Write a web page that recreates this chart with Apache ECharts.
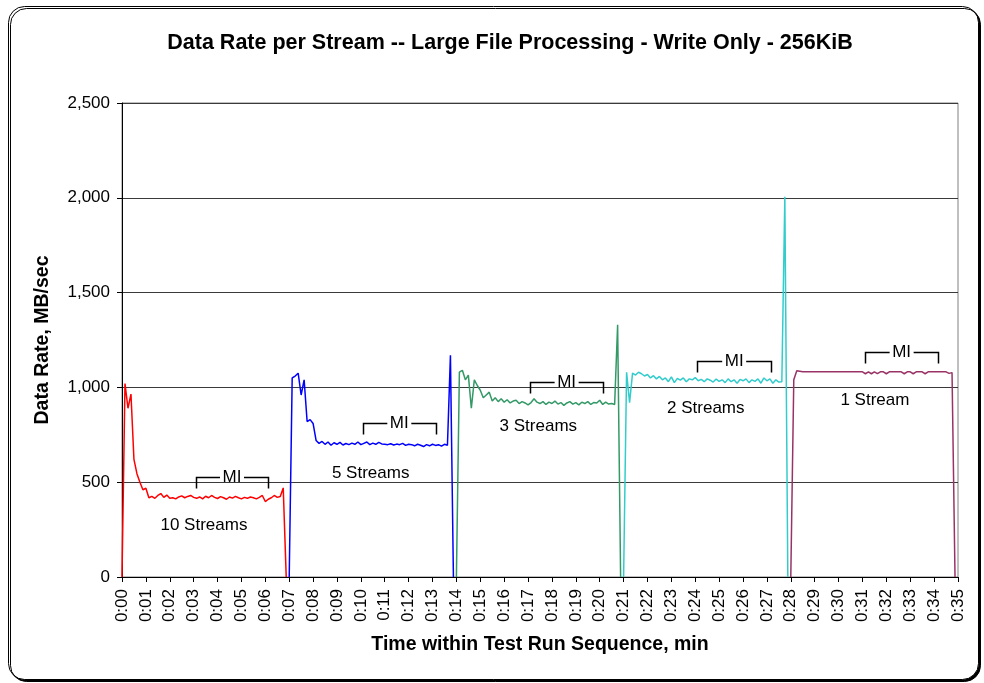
<!DOCTYPE html>
<html>
<head>
<meta charset="utf-8">
<script src="https://cdn.jsdelivr.net/npm/echarts@6/dist/echarts.min.js"></script>
<style>
  html, body { margin: 0; padding: 0; background: #fff; }
  #main { width: 984px; height: 683px; }
</style>
</head>
<body>
<div id="main"></div>
<script>
const myChart = echarts.init(document.getElementById('main'));

// tick labels of the time axis (minutes)
const timeLabels = ['0:00','0:01','0:02','0:03','0:04','0:05','0:06','0:07','0:08','0:09',
  '0:10','0:11','0:12','0:13','0:14','0:15','0:16','0:17','0:18','0:19',
  '0:20','0:21','0:22','0:23','0:24','0:25','0:26','0:27','0:28','0:29',
  '0:30','0:31','0:32','0:33','0:34','0:35'];

// samples every 7.5 s (0.125 min), each run starts at its own minute
const sampleStep = 0.125;
const runNames = ['10 Streams', '5 Streams', '3 Streams', '2 Streams', '1 Stream'];
const runStarts = [0, 7, 14, 21, 28];

const rate10 = [0, 1020, 890, 965, 620, 545, 500, 460, 468, 418,
  425, 415, 430, 440, 420, 432, 415, 418, 412, 422,
  428, 418, 425, 430, 420, 415, 422, 412, 426, 418,
  430, 420, 414, 424, 418, 410, 422, 416, 425, 418,
  412, 420, 415, 422, 418, 412, 420, 430, 398, 410,
  418, 430, 420, 425, 470, 0];
const rate5 = [0, 1050, 1060, 1075, 960, 1040, 820, 830, 810, 720,
  705, 715, 700, 712, 695, 708, 700, 710, 696, 704,
  698, 706, 700, 712, 698, 705, 712, 698, 706, 700,
  710, 702, 700, 698, 703, 696, 701, 698, 705, 694,
  700, 698, 692, 700, 695, 688, 698, 692, 700, 694,
  698, 690, 700, 695, 1170, 0];
const rate3 = [0, 1080, 1090, 1040, 1065, 890, 1040, 1010, 985, 945,
  960, 975, 928, 945, 925, 940, 922, 935, 918, 928,
  932, 915, 925, 918, 908, 920, 940, 922, 915, 925,
  910, 922, 915, 928, 912, 920, 905, 918, 925, 912,
  920, 908, 922, 915, 925, 910, 920, 918, 932, 910,
  922, 912, 915, 910, 1330, 0];
const rate2 = [0, 1080, 920, 1075, 1065, 1080, 1072, 1060, 1068, 1050,
  1062, 1045, 1058, 1040, 1050, 1030, 1055, 1025, 1048, 1038,
  1050, 1030, 1045, 1040, 1052, 1035, 1042, 1030, 1045, 1038,
  1028, 1044, 1032, 1040, 1025, 1045, 1030, 1040, 1022, 1042,
  1035, 1045, 1025, 1040, 1032, 1045, 1022, 1050, 1035, 1045,
  1022, 1040, 1028, 1030, 2005, 0];
const rate1 = [0, 1040, 1088, 1085, 1082, 1082, 1082, 1082, 1082,
  1082, 1082, 1082, 1082, 1082, 1082, 1082, 1082, 1082, 1082, 1082, 1082, 1082, 1082, 1082, 1082,
  1072, 1082, 1072, 1082, 1073, 1082, 1082,
  1072, 1082, 1082, 1082, 1082, 1082,
  1072, 1082, 1082,
  1072, 1082, 1082, 1082,
  1072, 1082, 1082, 1082, 1082, 1082, 1082, 1082,
  1074, 1078, 0];
const runRates = [rate10, rate5, rate3, rate2, rate1];

// measurement interval brackets: [from min, to min, level MB/sec]
const miWindows = [[3.08, 6.13, 526], [10.07, 13.15, 810], [17.08, 20.15, 1030], [24.09, 27.17, 1141], [31.1, 34.18, 1188]];
// where each run's label sits: [min, MB/sec]
const runLabelAt = [[3.43, 274], [10.41, 547], [17.43, 796], [24.44, 888], [31.52, 930]];

const colors = ['#FF0000', '#0000FF', '#339966', '#33CCCC', '#993366'];
const font = "'Liberation Sans', Arial, sans-serif";

const lineSeries = runRates.map(function (vals, k) {
  return {
    name: runNames[k],
    type: 'line',
    showSymbol: false,
    symbol: 'none',
    lineStyle: { width: 1.5, color: colors[k] },
    itemStyle: { color: colors[k] },
    data: vals.map(function (v, i) { return [runStarts[k] + i * sampleStep, v]; }),
    z: 3
  };
});

const option = {
  animation: false,
  backgroundColor: '#fff',
  textStyle: { fontFamily: font },
  graphic: [{
    type: 'rect',
    z: -10,
    shape: { x: 8.5, y: 6.5, width: 970, height: 673, r: 16 },
    style: { fill: '#fff', stroke: '#000', lineWidth: 1, shadowColor: '#000', shadowOffsetX: 2, shadowOffsetY: 2, shadowBlur: 0 }
  }],
  title: {
    text: 'Data Rate per Stream -- Large File Processing - Write Only - 256KiB',
    left: 505,
    top: 27,
    textAlign: 'center',
    textStyle: { fontFamily: font, fontSize: 21.5, fontWeight: 'bold', color: '#000' }
  },
  grid: {
    left: 122, right: 26, top: 103, bottom: 106,
    show: true, borderColor: '#808080', borderWidth: 1, backgroundColor: 'transparent'
  },
  xAxis: {
    type: 'value',
    min: 0, max: 35, interval: 1,
    name: 'Time within Test Run Sequence, min',
    nameLocation: 'middle',
    nameGap: 58,
    nameTextStyle: { fontFamily: font, fontSize: 19.5, fontWeight: 'bold', color: '#000' },
    axisLine: { show: true, lineStyle: { color: '#000', width: 1 } },
    axisTick: { show: true, inside: false, length: 5, lineStyle: { color: '#000' } },
    axisLabel: {
      rotate: 90, margin: 12, fontFamily: font, fontSize: 17, color: '#000',
      formatter: function (v) { return timeLabels[Math.round(v)]; }
    },
    splitLine: { show: false }
  },
  yAxis: {
    type: 'value',
    min: 0, max: 2500, interval: 500,
    name: 'Data Rate, MB/sec',
    nameLocation: 'middle',
    nameGap: 69,
    nameTextStyle: { fontFamily: font, fontSize: 19.5, fontWeight: 'bold', color: '#000' },
    axisLine: { show: true, lineStyle: { color: '#000', width: 1 } },
    axisTick: { show: true, inside: false, length: 5, lineStyle: { color: '#000' } },
    axisLabel: {
      margin: 12, fontFamily: font, fontSize: 17, color: '#000',
      formatter: function (v) { return v.toLocaleString('en-US'); }
    },
    splitLine: { show: true, lineStyle: { color: '#3a3a3a', width: 1 } }
  },
  series: lineSeries.concat([
    {
      name: 'MI',
      type: 'custom',
      data: miWindows,
      encode: { x: [0, 1], y: 2 },
      z: 4,
      renderItem: function (params, api) {
        const a = api.coord([api.value(0), api.value(2)]);
        const b = api.coord([api.value(1), api.value(2)]);
        const mid = (a[0] + b[0]) / 2;
        const y = Math.round(a[1]) + 0.5;
        const ax = Math.round(a[0]) + 0.5, bx = Math.round(b[0]) + 0.5;
        const st = { stroke: '#000', lineWidth: 1.5, fill: null };
        return {
          type: 'group',
          children: [
            { type: 'polyline', shape: { points: [[ax, y + 11], [ax, y], [mid - 12, y]] }, style: st },
            { type: 'polyline', shape: { points: [[mid + 12, y], [bx, y], [bx, y + 11]] }, style: st },
            { type: 'text', x: mid, y: y, style: { text: 'MI', fontFamily: font, fontSize: 17, fill: '#000', align: 'center', verticalAlign: 'middle' } }
          ]
        };
      }
    },
    {
      name: 'Run labels',
      type: 'custom',
      data: runLabelAt,
      encode: { x: 0, y: 1 },
      z: 4,
      renderItem: function (params, api) {
        const p = api.coord([api.value(0), api.value(1)]);
        return {
          type: 'text', x: p[0], y: p[1],
          style: { text: runNames[params.dataIndex], fontFamily: font, fontSize: 17, fill: '#000', align: 'center', verticalAlign: 'middle' }
        };
      }
    }
  ])
};

myChart.setOption(option);
</script>
</body>
</html>
